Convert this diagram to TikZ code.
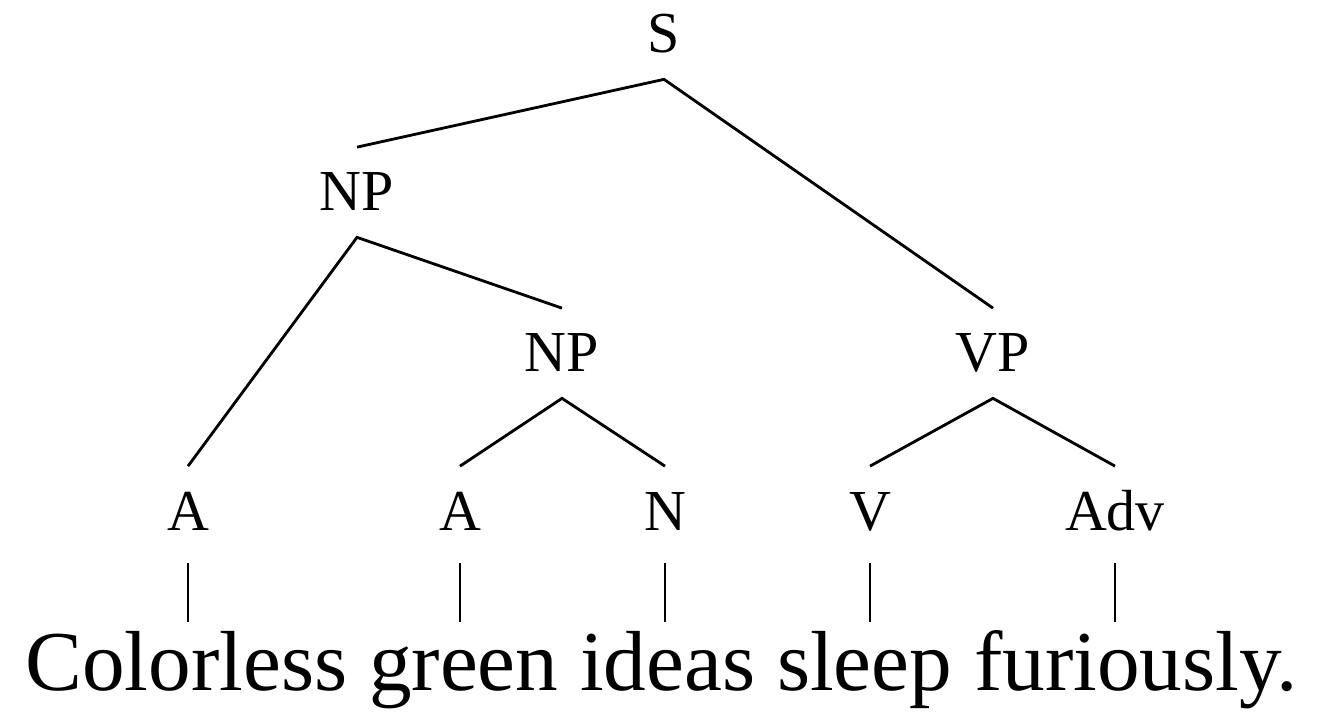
\documentclass[tikz,border=0pt]{standalone}
\usepackage{fontspec}
\setmainfont{Liberation Serif}
\usetikzlibrary{positioning}

\tikzset{
    cat/.style={anchor=base, inner xsep=2pt, inner ysep=0.52cm, text height=0.75cm, text depth=0pt, font=\fontsize{33}{40}\selectfont},
    word/.style={inner xsep=0pt, inner ysep=0.25cm, text height=1.1cm, text depth=0.35cm, font=\fontsize{48.5}{58}\selectfont},
    branch/.style={line width=1.6pt}
}

\begin{document}
\begin{tikzpicture}
        \useasboundingbox (0,0) rectangle (26.48,14.26);

        \node[cat] (s) at (13.28,13.20) {S};
        \node[cat] (np1) at (7.14,10.04) {NP};
        \node[cat] (np2) at (11.24,6.82) {NP};
        \node[cat] (vp) at (19.86,6.82) {VP};
        \node[cat] (a1) at (3.76,3.66) {A};
        \node[cat] (a2) at (9.20,3.66) {A};
        \node[cat] (n) at (13.30,3.66) {N};
        \node[cat] (v) at (17.40,3.66) {V};
        \node[cat] (adv) at (22.30,3.66) {Adv};

        \node[word, anchor=base west] (w1) at (0.5,0.46) {Colorless};
        \node[word, base right=12pt of w1] (w2) {green};
        \node[word, base right=12pt of w2] (w3) {ideas};
        \node[word, base right=12pt of w3] (w4) {sleep};
        \node[word, base right=12pt of w4] (w5) {furiously.};

        \draw[branch] (np1.north) -- (s.south) -- (vp.north);
        \draw[branch] (a1.north) -- (np1.south) -- (np2.north);
        \draw[branch] (a2.north) -- (np2.south) -- (n.north);
        \draw[branch] (v.north) -- (vp.south) -- (adv.north);

        \foreach \c/\w in {a1/w1, a2/w2, n/w3, v/w4, adv/w5}
            \draw[branch] ([yshift=-0.14cm]\c.south) -- (\c.south |- \w.north);
    \end{tikzpicture}
\end{document}
